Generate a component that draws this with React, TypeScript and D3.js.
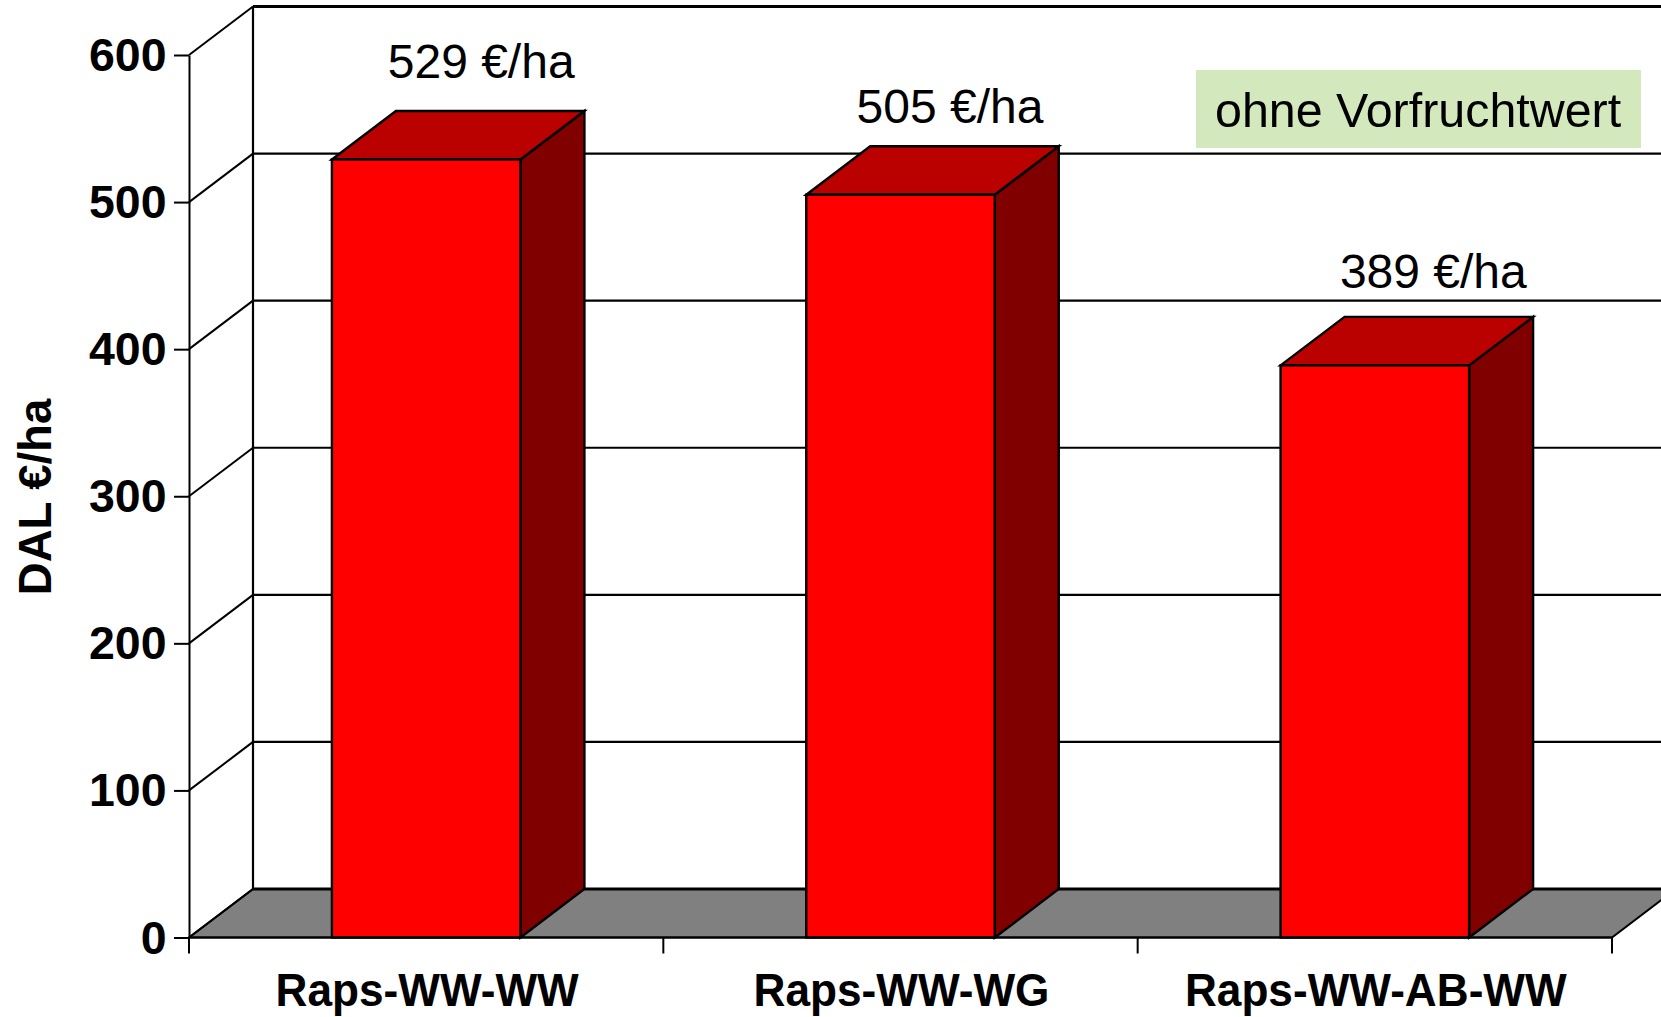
import React, { useEffect, useRef } from 'react';
import * as d3 from 'd3';

const categories = ['Raps-WW-WW', 'Raps-WW-WG', 'Raps-WW-AB-WW'];
const values = [529, 505, 389];
const yTicks = [0, 100, 200, 300, 400, 500, 600];
const valueUnit = '€/ha';
const yTitle = 'DAL €/ha';
const note = 'ohne Vorfruchtwert';

const FONT = '"Liberation Sans", Arial, sans-serif';
const WIDTH = 1661;
const HEIGHT = 1017;
const DEPTH_X = 64;
const DEPTH_Y = 48.5;

export default function App() {
  const ref = useRef<SVGSVGElement>(null);

  useEffect(() => {
    document.body.style.margin = '0';
    const svg = d3.select(ref.current);
    svg.selectAll('*').remove();

    const x = d3.scaleBand<string>()
      .domain(categories)
      .range([189, 1612])
      .paddingInner(0.6026)
      .paddingOuter(0.3013);
    const y = d3.scaleLinear().domain([0, 600]).range([937.5, 55]);
    const step = x.step();
    const x0 = x.range()[0];
    const x1 = x.range()[1];

    const poly = d3.line();

    // floor
    svg.append('path')
      .attr('d', poly([[x0, y(0)], [x0 + DEPTH_X, y(0) - DEPTH_Y], [x1 + DEPTH_X, y(0) - DEPTH_Y], [x1, y(0)]]) + 'Z')
      .attr('fill', '#808080')
      .attr('stroke', 'black')
      .attr('stroke-width', 2);

    // back wall grid and side wall diagonals
    const walls = svg.append('g').attr('stroke', 'black').attr('fill', 'none');
    yTicks.forEach(t => {
      walls.append('line')
        .attr('x1', x0 + DEPTH_X).attr('x2', WIDTH + 20)
        .attr('y1', y(t) - DEPTH_Y).attr('y2', y(t) - DEPTH_Y)
        .attr('stroke-width', t === 0 || t === 600 ? 3 : 2.2);
      walls.append('line')
        .attr('x1', x0).attr('x2', x0 + DEPTH_X)
        .attr('y1', y(t)).attr('y2', y(t) - DEPTH_Y)
        .attr('stroke-width', 2);
    });
    walls.append('line')
      .attr('x1', x0 + DEPTH_X).attr('x2', x0 + DEPTH_X)
      .attr('y1', y(600) - DEPTH_Y).attr('y2', y(0) - DEPTH_Y)
      .attr('stroke-width', 2.2);

    // bars
    categories.forEach((c, i) => {
      const left = x(c)!;
      const right = left + x.bandwidth();
      const top = y(values[i]);
      const g = svg.append('g').attr('stroke', 'black').attr('stroke-width', 2.4).attr('stroke-linejoin', 'miter');
      g.append('path')
        .attr('d', poly([[right, top], [right + DEPTH_X, top - DEPTH_Y], [right + DEPTH_X, y(0) - DEPTH_Y], [right, y(0)]]) + 'Z')
        .attr('fill', '#800000');
      g.append('path')
        .attr('d', poly([[left, top], [left + DEPTH_X, top - DEPTH_Y], [right + DEPTH_X, top - DEPTH_Y], [right, top]]) + 'Z')
        .attr('fill', '#bb0000');
      g.append('rect')
        .attr('x', left).attr('y', top)
        .attr('width', x.bandwidth()).attr('height', y(0) - top)
        .attr('fill', '#ff0000');
    });

    // y axis
    const yAxis = svg.append('g')
      .attr('transform', `translate(${x0},0)`)
      .call(d3.axisLeft(y).tickValues(yTicks).tickSize(15).tickSizeOuter(0).tickPadding(8));
    yAxis.select('.domain').attr('stroke', 'black').attr('stroke-width', 2);
    yAxis.selectAll('.tick line').attr('stroke', 'black').attr('stroke-width', 2);
    yAxis.selectAll('.tick text')
      .attr('font-family', FONT)
      .attr('font-size', 46.5)
      .attr('font-weight', 'bold')
      .attr('fill', 'black')
      .attr('dy', 15.5)
      .attr('x', -22.5);

    // x axis, ticks sit between the categories
    const xAxis = svg.append('g').attr('stroke', 'black').attr('stroke-width', 2);
    xAxis.append('line')
      .attr('x1', x0).attr('x2', x1)
      .attr('y1', y(0)).attr('y2', y(0));
    d3.range(categories.length + 1).forEach(i => {
      xAxis.append('line')
        .attr('x1', x0 + i * step).attr('x2', x0 + i * step)
        .attr('y1', y(0)).attr('y2', y(0) + 16);
    });
    // the original category labels are a little narrower than the font
    svg.append('g').selectAll('text')
      .data(categories)
      .join('text')
      .attr('transform', d => `translate(${x(d)! + x.bandwidth() / 2 + 1},1005.5) scale(0.95,1)`)
      .attr('text-anchor', 'middle')
      .attr('font-family', FONT)
      .attr('font-size', 46.5)
      .attr('font-weight', 'bold')
      .text(d => d);

    // y title
    svg.append('text')
      .attr('transform', 'translate(50.5,497) rotate(-90)')
      .attr('text-anchor', 'middle')
      .attr('font-family', FONT)
      .attr('font-size', 45.5)
      .attr('font-weight', 'bold')
      .text(yTitle);

    // value annotations were placed by hand in the original
    const labelDx = [55, 49.5, 58.5];
    const labelDy = [-81, -72, -77];
    svg.append('g').selectAll('text')
      .data(values)
      .join('text')
      .attr('x', (d, i) => x(categories[i])! + x.bandwidth() / 2 + labelDx[i])
      .attr('y', (d, i) => y(d) + labelDy[i])
      .attr('text-anchor', 'middle')
      .attr('font-family', FONT)
      .attr('font-size', 48)
      .text(d => `${d} ${valueUnit}`);

    // note box
    svg.append('rect')
      .attr('x', 1196).attr('y', 70)
      .attr('width', 445).attr('height', 78)
      .attr('fill', '#d3e8bd');
    svg.append('text')
      .attr('x', 1215).attr('y', 127)
      .attr('font-family', FONT)
      .attr('font-size', 48.4)
      .text(note);
  }, []);

  return <svg ref={ref} width={WIDTH} height={HEIGHT} style={{ display: 'block', background: 'white' }} />;
}
